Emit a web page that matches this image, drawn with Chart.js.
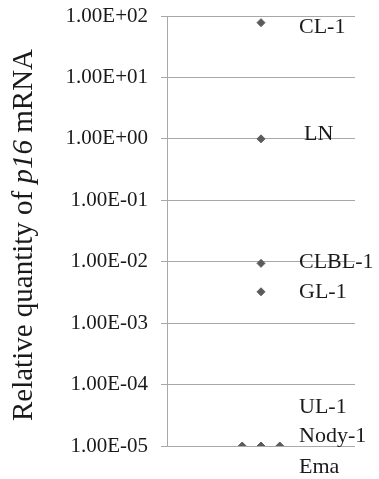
<!DOCTYPE html>
<html>
<head>
<meta charset="utf-8">
<script src="https://cdn.jsdelivr.net/npm/chart.js@4/dist/chart.umd.min.js"></script>
<style>
  html, body { margin: 0; padding: 0; background: #fff; }
  #wrap { width: 379px; height: 479px; }
</style>
</head>
<body>
<div id="wrap"><canvas id="chart"></canvas></div>
<script>
// samples and relative p16 mRNA quantities
const samples = ["CL-1", "LN", "CLBL-1", "GL-1", "UL-1", "Nody-1", "Ema"];
const xPos = [5, 5, 5, 5, 4, 5, 6];
const quantity = [78, 1, 0.0094, 0.00324, 0.00001, 0.00001, 0.00001];
const tickValues = [1e-5, 1e-4, 1e-3, 1e-2, 1e-1, 1e0, 1e1, 1e2];
const tickLabels = ["1.00E-05", "1.00E-04", "1.00E-03", "1.00E-02", "1.00E-01", "1.00E+00", "1.00E+01", "1.00E+02"];

const SERIF = '"Liberation Serif", "Times New Roman", serif';

// label offsets (px) from the x=5 column and from each sample's value
const labelDx = [38, 43, 38, 38, 38, 38, 38];
const labelDy = [10, 1, 5, 6, -33, -4, 27];

const sampleLabels = {
    id: "sampleLabels",
    afterDatasetsDraw(chart) {
        const { ctx, scales: { x, y } } = chart;
        ctx.save();
        ctx.font = "22px " + SERIF;
        ctx.fillStyle = "#1a1a1a";
        ctx.textBaseline = "alphabetic";
        ctx.textAlign = "left";
        const px = x.getPixelForValue(5);
        samples.forEach((s, i) => {
            ctx.fillText(s, px + labelDx[i], y.getPixelForValue(quantity[i]) + labelDy[i]);
        });
        ctx.restore();
    },
};

const yTitle = {
    id: "yTitle",
    afterDraw(chart) {
        const { ctx } = chart;
        const parts = [
            ["Relative quantity of ", "29px " + SERIF],
            ["p16", "italic 29px " + SERIF],
            [" mRNA", "29px " + SERIF],
        ];
        ctx.save();
        let total = 0;
        parts.forEach(([t, f]) => { ctx.font = f; total += ctx.measureText(t).width; });
        ctx.translate(32, 235);
        ctx.rotate(-Math.PI / 2);
        ctx.fillStyle = "#1a1a1a";
        ctx.textBaseline = "alphabetic";
        ctx.textAlign = "left";
        let cx = -total / 2;
        parts.forEach(([t, f]) => {
            ctx.font = f;
            ctx.fillText(t, cx, 0);
            cx += ctx.measureText(t).width;
        });
        ctx.restore();
    },
};

new Chart(document.getElementById("chart"), {
    type: "scatter",
    data: {
        datasets: [
            {
                data: samples.map((s, i) => ({ x: xPos[i], y: quantity[i] })),
                pointStyle: "rectRot",
                pointRadius: 4,
                pointHoverRadius: 4,
                borderWidth: 1,
                backgroundColor: "#5b5b5b",
                borderColor: "#5b5b5b",
            },
        ],
    },
    options: {
        responsive: true,
        maintainAspectRatio: false,
        animation: false,
        layout: { padding: { top: 16, right: 24, bottom: 33, left: 0 } },
        plugins: {
            legend: { display: false },
            tooltip: { enabled: false },
        },
        scales: {
            x: {
                type: "linear",
                min: 0,
                max: 10,
                display: false,
            },
            y: {
                type: "logarithmic",
                min: 1e-5,
                max: 1e2,
                afterBuildTicks: (scale) => {
                    scale.ticks = tickValues.map((v) => ({ value: v }));
                },
                afterFit: (scale) => {
                    scale.width = 167;
                    scale.paddingTop = 0;
                    scale.paddingBottom = 0;
                },
                ticks: {
                    padding: 13,
                    color: "#1a1a1a",
                    font: { family: SERIF, size: 21 },
                    callback: (v) => tickLabels[tickValues.indexOf(v)] ?? "",
                },
                grid: {
                    color: "#a8a8a8",
                    lineWidth: 1,
                    drawTicks: true,
                    tickLength: 6,
                },
                border: { display: true, color: "#a8a8a8", width: 1 },
            },
        },
    },
    plugins: [sampleLabels, yTitle],
});
</script>
</body>
</html>
